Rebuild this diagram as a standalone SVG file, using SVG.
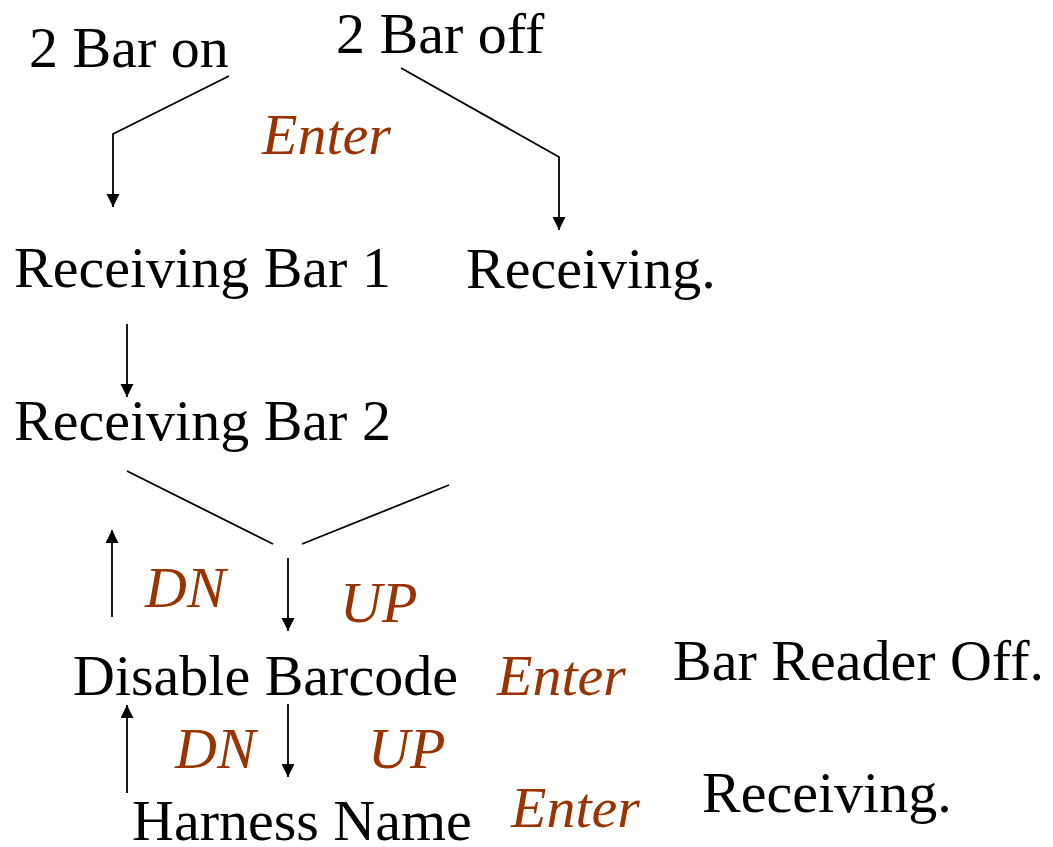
<svg xmlns="http://www.w3.org/2000/svg" width="1053" height="847" viewBox="0 0 1053 847">
  <style>
    .state { font-family: "Liberation Serif", "Times New Roman", serif; font-size: 58px; fill: #000; }
    .key { font-family: "Liberation Serif", "Times New Roman", serif; font-size: 58px; font-style: italic; fill: #993300; }
    .wire { fill: none; stroke: #000; stroke-width: 1.8; }
  </style>
  <defs>
    <marker id="head" markerUnits="userSpaceOnUse" markerWidth="14" markerHeight="14" refX="13" refY="6.5" orient="auto">
      <path d="M0,0 L13,6.5 L0,13 z" fill="#000"/>
    </marker>
  </defs>
  <rect width="1053" height="847" fill="#fff"/>

  <g id="connectors">
    <polyline class="wire" points="229,76 113,134 113,207" marker-end="url(#head)"/>
    <polyline class="wire" points="401,68 559,157 559,230" marker-end="url(#head)"/>
    <line class="wire" x1="127" y1="324" x2="127" y2="397" marker-end="url(#head)"/>
    <line class="wire" x1="127" y1="471" x2="273" y2="544"/>
    <line class="wire" x1="302" y1="544" x2="449" y2="485"/>
    <line class="wire" x1="112" y1="617" x2="112" y2="530" marker-end="url(#head)"/>
    <line class="wire" x1="288" y1="558" x2="288" y2="631" marker-end="url(#head)"/>
    <line class="wire" x1="127" y1="793" x2="127" y2="705" marker-end="url(#head)"/>
    <line class="wire" x1="288" y1="704" x2="288" y2="777" marker-end="url(#head)"/>
  </g>

  <g id="bar-on"><text class="state" x="29" y="67">2 Bar on</text></g>
  <g id="bar-off"><text class="state" x="336" y="53">2 Bar off</text></g>
  <g id="enter-top"><text class="key" x="262" y="154">Enter</text></g>
  <g id="receiving-bar-1"><text class="state" x="14" y="287">Receiving Bar 1</text></g>
  <g id="receiving-top"><text class="state" x="466" y="288">Receiving.</text></g>
  <g id="receiving-bar-2"><text class="state" x="14" y="440">Receiving Bar 2</text></g>
  <g id="dn-1"><text class="key" x="145" y="607">DN</text></g>
  <g id="up-1"><text class="key" x="340" y="622">UP</text></g>
  <g id="disable-barcode"><text class="state" x="73" y="695">Disable Barcode</text></g>
  <g id="enter-disable"><text class="key" x="497" y="695">Enter</text></g>
  <g id="bar-reader-off"><text class="state" x="673" y="680">Bar Reader Off.</text></g>
  <g id="dn-2"><text class="key" x="175" y="768">DN</text></g>
  <g id="up-2"><text class="key" x="368" y="768">UP</text></g>
  <g id="harness-name"><text class="state" x="132" y="840">Harness Name</text></g>
  <g id="enter-harness"><text class="key" x="511" y="827">Enter</text></g>
  <g id="receiving-bottom"><text class="state" x="702" y="812">Receiving.</text></g>
</svg>
